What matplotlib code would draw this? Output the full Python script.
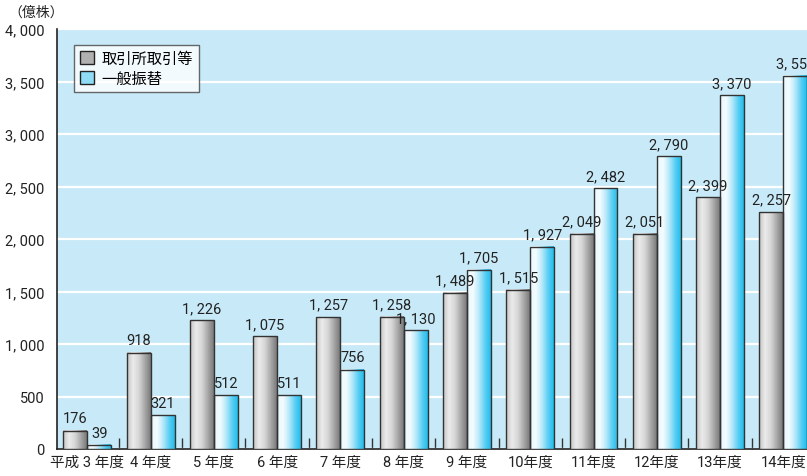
import numpy as np
import matplotlib.pyplot as plt
from matplotlib.colors import LinearSegmentedColormap
from matplotlib.patches import Rectangle, Patch
from matplotlib.ticker import FuncFormatter

plt.rcParams['font.family'] = ['Roboto', 'Noto Sans CJK JP', 'DejaVu Sans']

# データ
categories = ['平成 3 年度', '4 年度', '5 年度', '6 年度', '7 年度', '8 年度',
              '9 年度', '10年度', '11年度', '12年度', '13年度', '14年度']
exchange = [176, 918, 1226, 1075, 1257, 1258, 1489, 1515, 2049, 2051, 2399, 2257]
transfer = [39, 321, 512, 511, 756, 1130, 1705, 1927, 2482, 2790, 3370, 3557]
series_names = ['取引所取引等', '一般振替']

bg = '#c8eaf8'
cmap_gray = LinearSegmentedColormap.from_list(
    'g', ['#c4c4c4', '#ebebeb', '#d6d6d6', '#a8a8a8', '#7a7a7a'])
cmap_blue = LinearSegmentedColormap.from_list(
    'b', ['#e8f8fe', '#f4fcff', '#b8e9fa', '#5fd0f4', '#22bdec'])

def fmt(v):
    return f'{v:,}'.replace(',', ', ')

fig = plt.figure(figsize=(8.07, 4.77), dpi=100)
ax = fig.add_axes([57 / 807, 27 / 477, 758 / 807, 420 / 477])
ax.set_facecolor(bg)

grad = np.linspace(0, 1, 64).reshape(1, -1)
w = 0.379
x = np.arange(len(categories))

for i in range(len(categories)):
    for val, off, cm in [(exchange[i], -w / 2, cmap_gray), (transfer[i], w / 2, cmap_blue)]:
        x0 = x[i] + off - w / 2
        ax.imshow(grad, extent=[x0, x0 + w, 0, val], aspect='auto', cmap=cm,
                  zorder=3, interpolation='bilinear')
        ax.add_patch(Rectangle((x0, 0), w, val, fill=False, edgecolor='#333333',
                               linewidth=1.0, zorder=4))
        ax.text(x[i] + off, val + 50, fmt(val), ha='center', va='bottom',
                fontsize=10.5, color='#222222', zorder=5)

ax.set_xlim(-0.478, 11.5)
ax.set_ylim(0, 4000)
ax.set_yticks(np.arange(0, 4001, 500))
ax.yaxis.set_major_formatter(FuncFormatter(lambda v, p: fmt(int(v))))
ax.tick_params(axis='y', length=0, labelsize=10.5, pad=9, labelcolor='#222222')
ax.set_xticks(x)
ax.set_xticklabels(categories, fontsize=10.5, color='#222222')
ax.tick_params(axis='x', length=0, pad=4)
ax.set_xticks(x[:-1] + 0.5, minor=True)
ax.tick_params(axis='x', which='minor', direction='in', length=8, width=1, color='#333333')
ax.grid(axis='y', color='white', linewidth=1.6, zorder=1)
ax.set_axisbelow(True)
for s in ['top', 'right']:
    ax.spines[s].set_visible(False)
ax.spines['left'].set_color('#222222')
ax.spines['bottom'].set_color('#222222')
ax.spines['left'].set_linewidth(1.2)
ax.spines['bottom'].set_linewidth(1.2)

handles = [Patch(facecolor='#b0b0b0', edgecolor='#222222'),
           Patch(facecolor='#8fdcf6', edgecolor='#222222')]
leg = ax.legend(handles, series_names, loc='upper left', bbox_to_anchor=(17 / 758, 1 - 16 / 420),
                fontsize=11, frameon=True, fancybox=False, handlelength=0.9, handleheight=0.9,
                borderpad=0.4, labelspacing=0.35, handletextpad=0.5, borderaxespad=0,
                shadow=False)
leg.get_frame().set_edgecolor('#444444')
leg.get_frame().set_linewidth(1.0)
leg.set_zorder(6)

fig.text(8 / 807, 1 - 13 / 477, '（億株）', fontsize=10, va='center', ha='left', color='#222222')

fig.savefig('out.png', dpi=100)
